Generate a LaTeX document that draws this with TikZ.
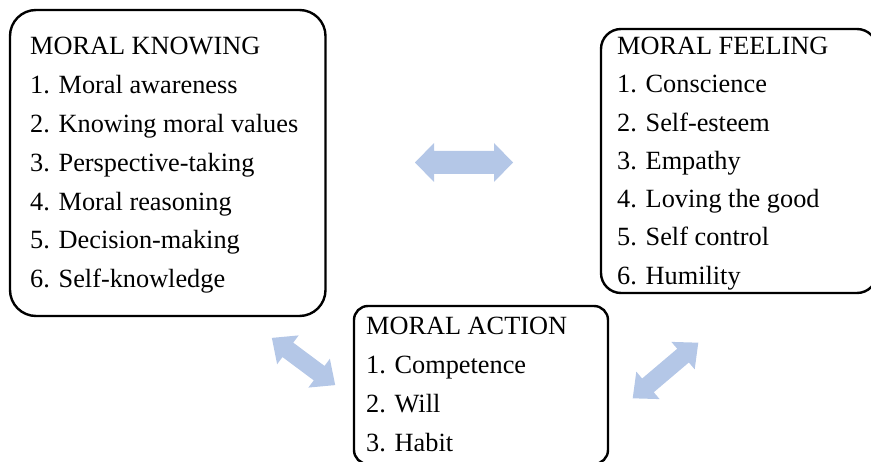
\documentclass[tikz,border=0pt]{standalone}
\usepackage{fontspec}
\setmainfont{Liberation Serif}
\definecolor{arrowblue}{HTML}{B4C7E7}
\tikzset{
  box/.style={draw=black, line width=2.4pt, anchor=north west, inner sep=0pt, outer sep=0pt},
  txt/.style={anchor=base west, inner sep=0pt, font=\fontsize{26.3}{30}\selectfont},
  pics/dblarr/.style n args={4}{code={
    \fill[arrowblue] (-#1/2,0) -- (-#1/2+#4,#3/2) -- (-#1/2+#4,#2/2) -- (#1/2-#4,#2/2)
      -- (#1/2-#4,#3/2) -- (#1/2,0) -- (#1/2-#4,-#3/2) -- (#1/2-#4,-#2/2)
      -- (-#1/2+#4,-#2/2) -- (-#1/2+#4,-#3/2) -- cycle;
  }}
}
\begin{document}
\begin{tikzpicture}[x=1pt,y=1pt]
\useasboundingbox (0,0) rectangle (871,-462);
\clip (0,0) rectangle (871,-462);
% boxes
\node[box, rounded corners=26pt, minimum width=315.5pt, minimum height=306pt] (know) at (10,-10) {};
\node[box, rounded corners=20pt, minimum width=276pt, minimum height=264pt] (feel) at (601,-29) {};
\node[box, rounded corners=14pt, minimum width=254pt, minimum height=158pt] (act) at (354,-306) {};
% texts
\foreach \t [count=\i from 0] in {MORAL KNOWING,1. Moral awareness,2. Knowing moral values,3. Perspective-taking,4. Moral reasoning,5. Decision-making,6. Self-knowledge}
  \node[txt] (k\i) at (30,-55-38.8*\i) {\t};
\foreach \t [count=\i from 0] in {MORAL FEELING,1. Conscience,2. Self-esteem,3. Empathy,4. Loving the good,5. Self control,6. Humility}
  \node[txt] (f\i) at (617,-54.5-38.3*\i) {\t};
\foreach \t [count=\i from 0] in {MORAL ACTION,1. Competence,2. Will,3. Habit}
  \node[txt] (a\i) at (366,-335-38.7*\i) {\t};
% block arrows
\pic at (464,-162.5) {dblarr={98}{23}{39}{19}};
\pic[rotate=-36.7] at (303.5,-361.5) {dblarr={79}{18}{36}{20}};
\pic[rotate=40.3] at (665.5,-370.5) {dblarr={86}{18}{36}{20}};
\end{tikzpicture}
\end{document}
